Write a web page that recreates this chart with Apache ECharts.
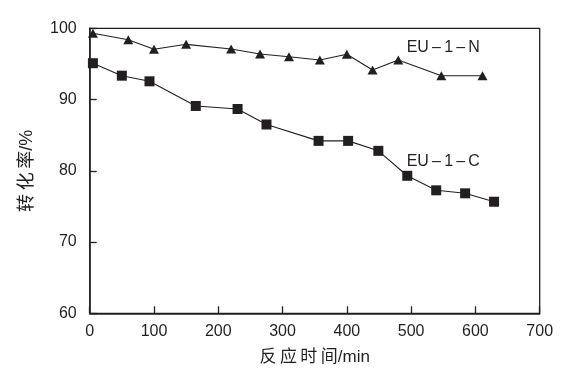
<!DOCTYPE html>
<html><head><meta charset="utf-8">
<script src="https://cdn.jsdelivr.net/npm/echarts@6/dist/echarts.min.js"></script>
<style>html,body{margin:0;padding:0;background:#fff}#c{width:573px;height:380px}</style>
</head><body><div id="c"></div>
<script>
const nTime = [5, 60, 100, 150, 220, 265, 310, 358, 400, 440, 480, 547, 611];
const nConv = [99.3, 98.4, 97.05, 97.75, 97.1, 96.4, 96.0, 95.55, 96.35, 94.15, 95.55, 93.35, 93.35];
const cTime = [5, 50, 93, 165, 230, 275, 356, 402, 449, 494, 539, 584, 629];
const cConv = [95.1, 93.35, 92.56, 89.1, 88.67, 86.5, 84.2, 84.2, 82.8, 79.3, 77.26, 76.84, 75.66];
const seriesNames = ['EU\u2009\u2013\u20091\u2009\u2013\u2009N', 'EU\u2009\u2013\u20091\u2009\u2013\u2009C'];
const labelPos = [[493, 97.24], [493, 81.28]];
const xTicks = [0, 100, 200, 300, 400, 500, 600, 700];
const yTicks = [60, 70, 80, 90, 100];
const xName = '反\u2009应\u2009时\u2009间/min';
const yName = '转\u2009化\u2009率/%';

const FONT = '"Liberation Sans", "Noto Sans CJK SC", sans-serif';
const INK = '#231f20';
const chart = echarts.init(document.getElementById('c'));
function pair(xs, ys){ return xs.map((x,i)=>[x, ys[i]]); }
function mk(i){
  return {
    symbol: 'rect', symbolSize: 0,
    data: [{ coord: labelPos[i], value: seriesNames[i] }],
    label: { show: true, position: 'right', distance: 0, formatter: seriesNames[i],
      color: INK, fontSize: 16, fontFamily: FONT },
    itemStyle: { color: 'transparent' }, animation: false
  };
}
chart.setOption({
  animation: false,
  backgroundColor: '#fff',
  grid: { left: 89.7, right: 33.3, top: 28.3, bottom: 66.7, show: true, borderColor: INK, borderWidth: 1.3, containLabel: false },
  xAxis: {
    type: 'value', min: xTicks[0], max: xTicks[xTicks.length-1], interval: 100,
    name: xName, nameLocation: 'middle', nameGap: 36,
    nameTextStyle: { color: INK, fontSize: 17, fontFamily: FONT },
    axisLine: { lineStyle: { color: INK, width: 1.5 } },
    axisTick: { inside: true, length: 7, lineStyle: { color: INK, width: 1.3 } },
    axisLabel: { color: INK, fontSize: 16, fontFamily: FONT, margin: 10 },
    splitLine: { show: false }
  },
  yAxis: {
    type: 'value', min: yTicks[0], max: yTicks[yTicks.length-1], interval: 10,
    name: yName, nameLocation: 'middle', nameGap: 54, nameRotate: 90,
    nameTextStyle: { color: INK, fontSize: 18, fontFamily: FONT },
    axisLine: { lineStyle: { color: INK, width: 1.5 } },
    axisTick: { inside: true, length: 7, lineStyle: { color: INK, width: 1.3 } },
    axisLabel: { color: INK, fontSize: 16, fontFamily: FONT, margin: 13 },
    splitLine: { show: false }
  },
  series: [
    { name: seriesNames[0], type: 'line', data: pair(nTime, nConv), symbol: 'triangle', symbolSize: [10, 9],
      lineStyle: { color: INK, width: 1.1 }, itemStyle: { color: INK }, markPoint: mk(0) },
    { name: seriesNames[1], type: 'line', data: pair(cTime, cConv), symbol: 'rect', symbolSize: 10,
      lineStyle: { color: INK, width: 1.1 }, itemStyle: { color: INK }, markPoint: mk(1) }
  ]
});
</script></body></html>
